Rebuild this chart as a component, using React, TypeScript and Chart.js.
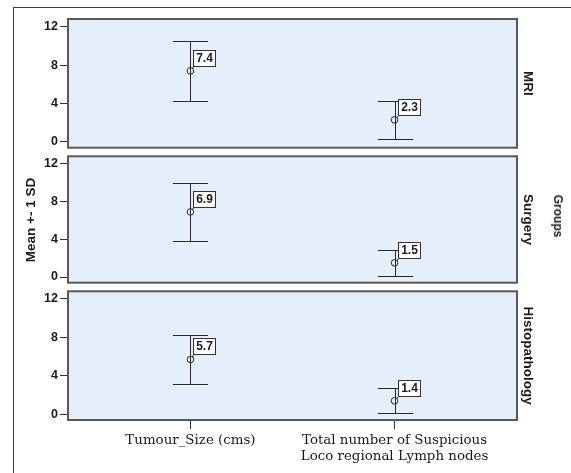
import React, { useEffect, useRef } from "react";
import { Chart, registerables } from "chart.js";

Chart.register(...registerables);

// ---- data ----
const categories: string[][] = [
  ["Tumour_Size (cms)"],
  ["Total number of Suspicious", "Loco regional Lymph nodes"],
];
const groups = ["MRI", "Surgery", "Histopathology"];
const mriMean = [7.4, 2.3];
const mriSD = [3.1, 1.95];
const surgeryMean = [6.9, 1.5];
const surgerySD = [3.05, 1.4];
const histoMean = [5.7, 1.4];
const histoSD = [2.5, 1.3];
const yTicks = [0, 4, 8, 12];
const yTitle = "Mean +- 1 SD";
const stripTitle = "Groups";

const means = [mriMean, surgeryMean, histoMean];
const sds = [mriSD, surgerySD, histoSD];

const SANS = "'Liberation Sans', Arial, sans-serif";
const SERIF = "'DejaVu Serif', serif";
const INK = "#1a1a1a";
const PANEL_BG = "#e5eff9";
const PANEL_BORDER = "#585858";

type PanelCfg = { top: number; height: number; padTop: number; padBottom: number; showX: boolean };
const panels: PanelCfg[] = [
  { top: 0, height: 152, padTop: 19, padBottom: 3, showX: false },
  { top: 152, height: 135, padTop: 2, padBottom: 3, showX: false },
  { top: 287, height: 186, padTop: 3, padBottom: 0, showX: true },
];

function makePanelPlugin(idx: number) {
  return {
    id: "panelDeco" + idx,
    beforeDraw(chart: any) {
      const { ctx, chartArea: a } = chart;
      ctx.save();
      ctx.fillStyle = PANEL_BG;
      ctx.fillRect(a.left, a.top, a.right - a.left, a.bottom - a.top);
      ctx.restore();
    },
    beforeDatasetsDraw(chart: any) {
      const { ctx } = chart;
      const xs = chart.scales.x;
      const ys = chart.scales.y;
      const m = means[idx];
      const s = sds[idx];
      ctx.save();
      ctx.strokeStyle = "#262626";
      ctx.lineWidth = 1;
      for (let i = 0; i < m.length; i++) {
        const x = Math.round(xs.getPixelForValue(i)) + 0.5;
        const yHi = Math.round(ys.getPixelForValue(m[i] + s[i])) + 0.5;
        const yLo = Math.round(ys.getPixelForValue(m[i] - s[i])) + 0.5;
        ctx.beginPath();
        ctx.moveTo(x, yHi);
        ctx.lineTo(x, yLo);
        ctx.moveTo(x - 17.5, yHi);
        ctx.lineTo(x + 17.5, yHi);
        ctx.moveTo(x - 17.5, yLo);
        ctx.lineTo(x + 17.5, yLo);
        ctx.stroke();
      }
      ctx.restore();
    },
    afterDatasetsDraw(chart: any) {
      const { ctx } = chart;
      const xs = chart.scales.x;
      const ys = chart.scales.y;
      const m = means[idx];
      ctx.save();
      ctx.font = "bold 12px " + SANS;
      for (let i = 0; i < m.length; i++) {
        const cx = xs.getPixelForValue(i);
        const cy = ys.getPixelForValue(m[i]);
        const txt = m[i].toFixed(1);
        const w = Math.ceil(ctx.measureText(txt).width) + 5;
        const h = 16;
        const bx = Math.round(cx + 3) + 0.5;
        const by = Math.round(cy - 5 - h) + 0.5;
        ctx.strokeStyle = "#333";
        ctx.lineWidth = 1;
        ctx.beginPath();
        ctx.moveTo(cx + 2, cy - 2);
        ctx.lineTo(bx, by + h);
        ctx.stroke();
        ctx.fillStyle = "#ffffff";
        ctx.fillRect(bx, by, w, h);
        ctx.strokeRect(bx, by, w, h);
        ctx.fillStyle = INK;
        ctx.textAlign = "center";
        ctx.textBaseline = "middle";
        ctx.fillText(txt, bx + w / 2, by + h / 2 + 0.5);
      }
      ctx.restore();
    },
    afterDraw(chart: any) {
      const { ctx, chartArea: a } = chart;
      ctx.save();
      ctx.strokeStyle = PANEL_BORDER;
      ctx.lineWidth = 2;
      ctx.strokeRect(a.left, a.top, a.right - a.left, a.bottom - a.top);
      ctx.translate(a.right + 11, (a.top + a.bottom) / 2);
      ctx.rotate(Math.PI / 2);
      ctx.fillStyle = INK;
      ctx.font = "bold 13.5px " + SANS;
      ctx.textAlign = "center";
      ctx.textBaseline = "middle";
      ctx.fillText(groups[idx], 0, 0);
      ctx.restore();
    },
  };
}

function Panel({ idx }: { idx: number }) {
  const ref = useRef<HTMLCanvasElement | null>(null);
  const cfg = panels[idx];
  useEffect(() => {
    if (!ref.current) return;
    const chart = new Chart(ref.current, {
      type: "scatter",
      data: {
        datasets: [
          {
            data: means[idx].map((v, i) => ({ x: i, y: v })),
            pointRadius: 3.3,
            pointHoverRadius: 3.3,
            pointBorderWidth: 1,
            pointBorderColor: "#262626",
            pointBackgroundColor: "rgba(0,0,0,0)",
          },
        ],
      },
      options: {
        responsive: false,
        animation: false,
        events: [],
        layout: { padding: { left: 13, right: 54, top: cfg.padTop, bottom: cfg.padBottom } },
        plugins: { legend: { display: false }, tooltip: { enabled: false } },
        scales: {
          x: {
            type: "linear",
            min: -0.6,
            max: 1.6,
            display: cfg.showX,
            afterBuildTicks: (axis: any) => {
              axis.ticks = categories.map((_, i) => ({ value: i }));
            },
            afterFit: (axis: any) => {
              axis.height = cfg.showX ? 53 : 0;
              axis.paddingLeft = 0;
              axis.paddingRight = 0;
            },
            grid: {
              drawOnChartArea: false,
              drawTicks: true,
              tickLength: 9,
              color: "#333",
            },
            border: { display: false },
            ticks: {
              autoSkip: false,
              maxRotation: 0,
              padding: 3,
              color: INK,
              font: { family: SERIF, size: 13.4, lineHeight: 1.24 },
              callback: (v: any) => categories[Math.round(Number(v))] || "",
            },
          },
          y: {
            min: -0.6,
            max: 12.8,
            afterBuildTicks: (axis: any) => {
              axis.ticks = yTicks.map((v) => ({ value: v }));
            },
            afterFit: (axis: any) => {
              axis.width = 55;
              axis.paddingTop = 0;
              axis.paddingBottom = 0;
            },
            grid: {
              drawOnChartArea: false,
              drawTicks: true,
              tickLength: 8,
              color: "#333",
            },
            border: { display: false },
            ticks: {
              padding: 2,
              color: INK,
              font: { family: SANS, size: 12.5, weight: "bold" },
            },
          },
        },
      },
      plugins: [makePanelPlugin(idx)],
    } as any);
    return () => chart.destroy();
  }, [idx]);
  return (
    <canvas
      ref={ref}
      width={571}
      height={cfg.height}
      style={{ position: "absolute", left: 0, top: cfg.top, width: 571, height: cfg.height, display: "block" }}
    />
  );
}

export default function App() {
  return (
    <div style={{ position: "absolute", left: 0, top: 0, width: 571, height: 473, background: "#fff", overflow: "hidden" }}>
      {panels.map((_, i) => (
        <Panel key={i} idx={i} />
      ))}
      <div style={{ position: "absolute", left: 13, top: 7, width: 1, height: 466, background: "#3a3a3a" }} />
      <div style={{ position: "absolute", left: 13, top: 7, width: 558, height: 1, background: "#3a3a3a" }} />
      <div
        style={{
          position: "absolute",
          left: 30,
          top: 220,
          transform: "translate(-50%, -50%) rotate(-90deg)",
          whiteSpace: "nowrap",
          font: "bold 13.5px " + SANS,
          color: INK,
        }}
      >
        {yTitle}
      </div>
      <div
        style={{
          position: "absolute",
          left: 558,
          top: 216,
          transform: "translate(-50%, -50%) rotate(90deg)",
          whiteSpace: "nowrap",
          font: "bold 12px " + SANS,
          color: INK,
        }}
      >
        {stripTitle}
      </div>
    </div>
  );
}
